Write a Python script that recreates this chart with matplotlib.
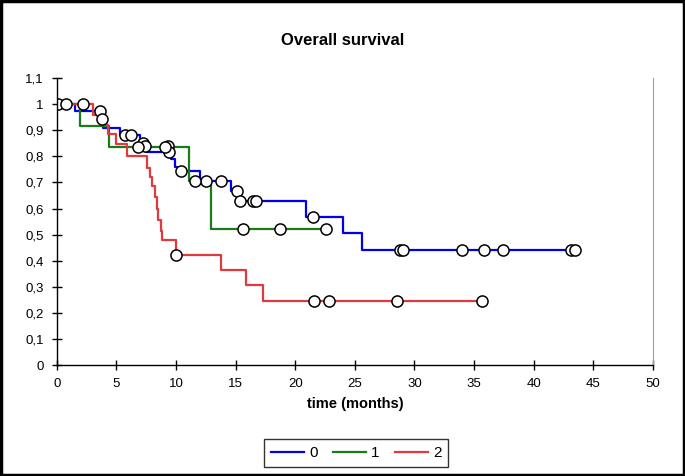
import matplotlib.pyplot as plt
from matplotlib.ticker import FuncFormatter, MultipleLocator

plt.rcParams['font.family'] = ['Liberation Sans', 'DejaVu Sans']

# group 0 (blue): step times and survival after each step
t0 = [0, 1.5, 3.7, 3.9, 5.3, 7.0, 7.3, 7.5, 9.6, 9.9, 10.2, 12.0, 14.65, 15.3, 20.9, 24.0, 25.6, 43.5]
s0 = [1.0, 0.973, 0.945, 0.907, 0.88, 0.862, 0.84, 0.816, 0.788, 0.76, 0.745, 0.707, 0.668, 0.627, 0.566, 0.508, 0.442, 0.442]
c0_t = [3.6, 3.75, 5.7, 6.2, 7.2, 7.4, 9.3, 9.4, 10.4, 12.5, 13.75, 15.1, 15.35, 16.45, 16.7, 21.5,
        28.8, 29.0, 34.0, 35.8, 37.4, 43.1, 43.5]
c0_s = [0.973, 0.945, 0.88, 0.88, 0.853, 0.84, 0.84, 0.816, 0.745, 0.707, 0.707, 0.668, 0.627, 0.627, 0.627, 0.566,
        0.442, 0.442, 0.442, 0.442, 0.442, 0.442, 0.442]

# group 1 (green)
t1 = [0, 1.9, 4.4, 11.1, 12.9, 22.6]
s1 = [1.0, 0.917, 0.836, 0.705, 0.523, 0.523]
c1_t = [6.8, 9.1, 11.6, 15.6, 18.7, 22.6]
c1_s = [0.836, 0.836, 0.705, 0.523, 0.523, 0.523]

# group 2 (red)
t2 = [0, 3.0, 4.0, 4.3, 5.0, 5.9, 7.6, 7.8, 8.0, 8.2, 8.4, 8.5, 8.7, 8.8, 10.0, 13.8, 15.9, 17.3, 35.7]
s2 = [1.0, 0.96, 0.92, 0.885, 0.846, 0.80, 0.757, 0.72, 0.685, 0.645, 0.60, 0.555, 0.515, 0.478, 0.42,
      0.366, 0.306, 0.245, 0.245]
c2_t = [0.1, 0.8, 2.2, 10.0, 21.6, 22.8, 28.5, 35.7]
c2_s = [1.0, 1.0, 1.0, 0.42, 0.245, 0.245, 0.245, 0.245]

fig = plt.figure(figsize=(6.85, 4.76), dpi=100)
ax = fig.add_axes([0.083, 0.233, 0.87, 0.603])

ax.step(t0, s0, where='post', color='#0000ee', lw=1.6, label='0')
ax.step(t1, s1, where='post', color='#1b7b1b', lw=1.6, label='1')
ax.step(t2, s2, where='post', color='#e0393e', lw=1.6, label='2')

for ct, cs in [(c0_t, c0_s), (c1_t, c1_s), (c2_t, c2_s)]:
    ax.plot(ct, cs, 'o', ms=8, mfc='white', mec='black', mew=1.1, ls='none')

ax.set_xlim(0, 50)
ax.set_ylim(0, 1.1)
ax.xaxis.set_major_locator(MultipleLocator(5))
ax.yaxis.set_major_locator(MultipleLocator(0.1))
ax.yaxis.set_major_formatter(FuncFormatter(lambda v, p: ('%.1f' % v).rstrip('0').rstrip('.').replace('.', ',') if v else '0'))
ax.tick_params(direction='inout', length=7, width=1, labelsize=9.5, colors='black')
ax.tick_params(axis='x', pad=6)
ax.tick_params(axis='y', pad=6)

ax.spines['top'].set_visible(False)
ax.spines['right'].set_color('#a0a0a0')
for side in ['bottom', 'left']:
    ax.spines[side].set_color('black')
    ax.spines[side].set_linewidth(1)

ax.set_xlabel('time (months)', fontsize=10.5, fontweight='bold', labelpad=5)
fig.text(0.5, 0.915, 'Overall survival', ha='center', va='center', fontsize=12, fontweight='bold')

leg = fig.legend(loc='center', bbox_to_anchor=(0.52, 0.048), ncol=3, fontsize=11, frameon=True,
                 fancybox=False, edgecolor='black', handlelength=2.2, handletextpad=0.3,
                 columnspacing=1.0, borderpad=0.45)
leg.get_frame().set_linewidth(1)

fig.patches.append(plt.Rectangle((0.002, 0.003), 0.996, 0.994, transform=fig.transFigure,
                                 fill=False, edgecolor='black', lw=2.5))

fig.savefig('out.png', dpi=100)
